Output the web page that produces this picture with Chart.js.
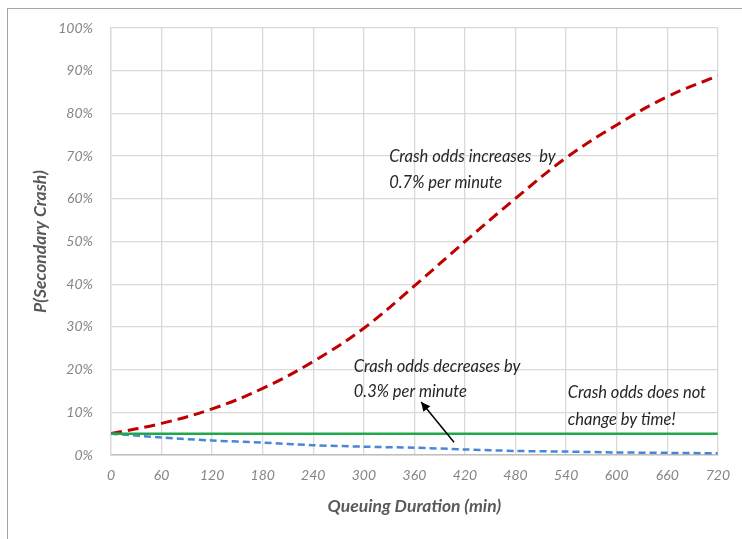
<!DOCTYPE html>
<html>
<head>
<meta charset="utf-8">
<script src="https://cdn.jsdelivr.net/npm/chart.js@4/dist/chart.umd.min.js"></script>
<style>
  html, body { margin: 0; padding: 0; background: #fff; }
  #wrap { position: relative; width: 742px; height: 539px; }
  #frame { position: absolute; left: 7px; top: 8px; right: 0; bottom: 0;
           border-left: 1.5px solid #a6a6a6; border-top: 1.5px solid #a6a6a6; }
  canvas { position: absolute; left: 0; top: 0; }
</style>
</head>
<body>
<div id="wrap">
  <div id="frame"></div>
  <canvas id="chart" width="742" height="539"></canvas>
</div>
<script>
// Chart data
const minutes = [0, 60, 120, 180, 240, 300, 360, 420, 480, 540, 600, 660, 720];
const oddsUp = [5.0, 7.4, 10.8, 15.6, 21.9, 29.7, 39.6, 50.0, 60.1, 69.6, 77.3, 83.9, 88.8];
const oddsDown = [5.0, 4.1, 3.4, 2.9, 2.3, 1.95, 1.7, 1.3, 0.95, 0.8, 0.6, 0.5, 0.4];
const oddsFlat = [5, 5, 5, 5, 5, 5, 5, 5, 5, 5, 5, 5, 5];

const FONT = 'Lato, "Open Sans", sans-serif';

function toPoints(ys) {
    return minutes.map((m, i) => ({ x: m, y: ys[i] }));
}

// text notes and the arrow, placed by data coordinates
const notes = [
    { x: 330, y: 69.8, text: 'Crash odds increases  by' },
    { x: 330, y: 63.7, text: '0.7% per minute' },
    { x: 288, y: 20.8, text: 'Crash odds decreases by' },
    { x: 288, y: 14.8, text: '0.3% per minute' },
    { x: 542, y: 14.5, text: 'Crash odds does not' },
    { x: 542, y: 8.2, text: 'change by time!' }
];

const notesPlugin = {
    id: 'notes',
    afterDatasetsDraw(chart) {
        const ctx = chart.ctx;
        const xs = chart.scales.x, ys = chart.scales.y;
        ctx.save();
        ctx.fillStyle = '#262626';
        ctx.font = 'italic 16.5px ' + FONT;
        ctx.textAlign = 'left';
        ctx.textBaseline = 'middle';
        notes.forEach(n => {
            ctx.fillText(n.text, xs.getPixelForValue(n.x), ys.getPixelForValue(n.y));
        });

        // arrow
        const x1 = xs.getPixelForValue(407), y1 = ys.getPixelForValue(3.0);
        const x2 = xs.getPixelForValue(368), y2 = ys.getPixelForValue(12.4);
        ctx.strokeStyle = '#000';
        ctx.fillStyle = '#000';
        ctx.lineWidth = 1.5;
        ctx.beginPath();
        ctx.moveTo(x1, y1);
        ctx.lineTo(x2, y2);
        ctx.stroke();
        const a = Math.atan2(y2 - y1, x2 - x1);
        const len = 9, w = 4.5;
        ctx.beginPath();
        ctx.moveTo(x2, y2);
        ctx.lineTo(x2 - len * Math.cos(a) + w * Math.sin(a), y2 - len * Math.sin(a) - w * Math.cos(a));
        ctx.lineTo(x2 - len * Math.cos(a) - w * Math.sin(a), y2 - len * Math.sin(a) + w * Math.cos(a));
        ctx.closePath();
        ctx.fill();
        ctx.restore();
    }
};

new Chart(document.getElementById('chart'), {
    type: 'line',
    data: {
        datasets: [
            {
                label: 'Flat',
                data: toPoints(oddsFlat),
                borderColor: '#1fa84a',
                borderWidth: 2.5,
                pointRadius: 0,
                fill: false
            },
            {
                label: 'Decreasing',
                data: toPoints(oddsDown),
                borderColor: '#4a86d8',
                borderWidth: 2.5,
                borderDash: [7, 4],
                pointRadius: 0,
                tension: 0.3,
                fill: false
            },
            {
                label: 'Increasing',
                data: toPoints(oddsUp),
                borderColor: '#c00000',
                borderWidth: 3,
                borderDash: [11, 6],
                pointRadius: 0,
                tension: 0.4,
                fill: false
            }
        ]
    },
    options: {
        responsive: false,
        animation: false,
        devicePixelRatio: 1,
        layout: { padding: { left: 0, top: 28, right: 22, bottom: 0 } },
        plugins: {
            legend: { display: false },
            tooltip: { enabled: false }
        },
        scales: {
            x: {
                type: 'linear',
                min: 0,
                max: 720,
                afterFit(scale) { scale.height = 84; },
                ticks: {
                    stepSize: 60,
                    padding: 12,
                    color: '#858585',
                    font: { family: FONT, size: 14, style: 'italic' },
                    maxRotation: 0
                },
                grid: { color: '#d9d9d9', lineWidth: 1.3, drawTicks: false },
                border: { color: '#bfbfbf', width: 1.5 },
                title: {
                    display: true,
                    text: 'Queuing Duration (min)',
                    color: '#595959',
                    font: { family: FONT, size: 17.5, style: 'italic', weight: 'bold' },
                    padding: { top: 0, bottom: 22 }
                }
            },
            y: {
                min: 0,
                max: 100,
                afterFit(scale) { scale.width = 111; },
                ticks: {
                    stepSize: 10,
                    padding: 18,
                    color: '#858585',
                    font: { family: FONT, size: 14, style: 'italic' },
                    callback: v => v + '%'
                },
                grid: { color: '#d9d9d9', lineWidth: 1.3, drawTicks: false },
                border: { color: '#d9d9d9', width: 1.3 },
                title: {
                    display: true,
                    text: 'P(Secondary Crash)',
                    color: '#595959',
                    font: { family: FONT, size: 17.5, style: 'italic', weight: 'bold' },
                    padding: { top: 30, bottom: 0 }
                }
            }
        }
    },
    plugins: [notesPlugin]
});
</script>
</body>
</html>
